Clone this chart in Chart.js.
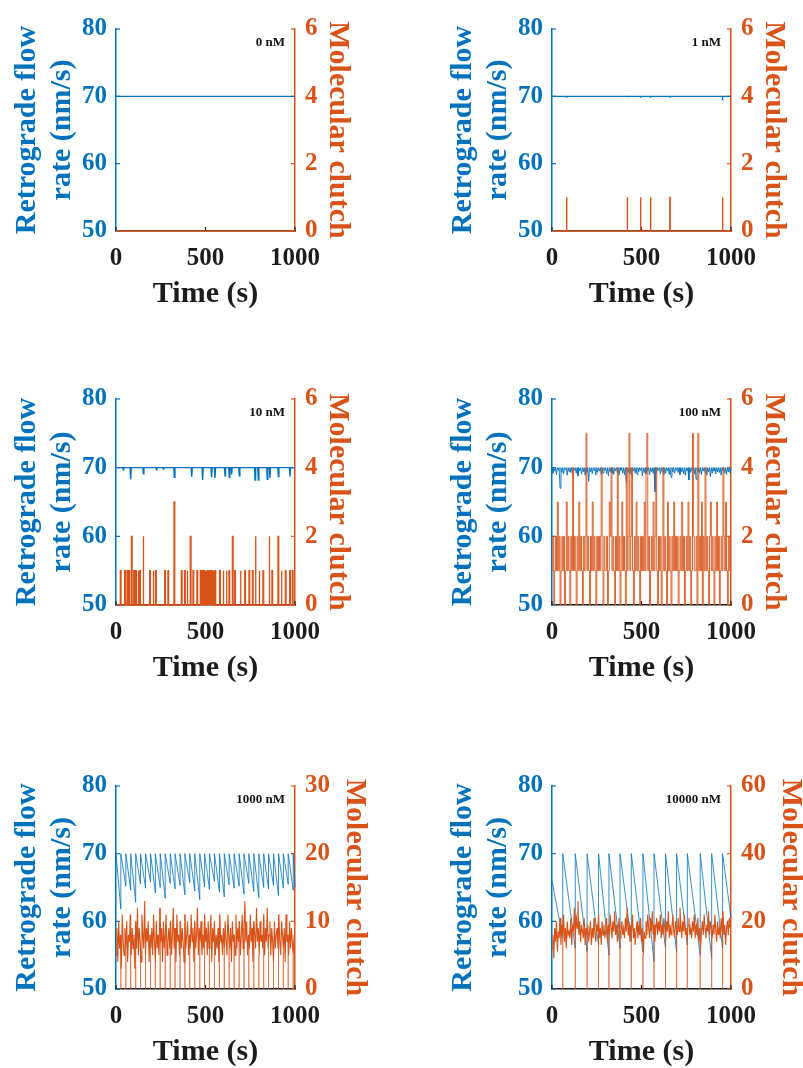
<!DOCTYPE html>
<html>
<head>
<meta charset="utf-8">
<title>Retrograde flow and molecular clutch vs. time</title>
<script src="https://cdn.jsdelivr.net/npm/chart.js@4.4.1/dist/chart.umd.min.js"></script>
<style>
  html, body { margin: 0; padding: 0; background: #ffffff; width: 803px; height: 1068px; overflow: hidden; }
  canvas { position: absolute; }
</style>
</head>
<body>
<canvas id="p0"></canvas>
<canvas id="p1"></canvas>
<canvas id="p2"></canvas>
<canvas id="p3"></canvas>
<canvas id="p4"></canvas>
<canvas id="p5"></canvas>
<script>
// ---------- shared axis data ----------
const concentrations = ['0 nM', '1 nM', '10 nM', '100 nM', '1000 nM', '10000 nM'];
const timeTicks = [0, 500, 1000];
const rateTicks = [50, 60, 70, 80];
const clutchTicksSmall = [0, 2, 4, 6];
const clutchTicks1000 = [0, 10, 20, 30];
const clutchTicks10000 = [0, 20, 40, 60];
const freeRate = 70;

// ---------- 0 nM ----------
const rate0Time = [0, 1000];
const rate0 = [70, 70];
const clutch0Time = [0, 1000];
const clutch0 = [0, 0];

// ---------- 1 nM: isolated binding events ----------
const bind1Time = [82, 421, 495, 551, 659, 953];
const bind1Count = [1, 1, 1, 1, 1, 1];
const slow1Rate = [69.95, 69.95, 69.95, 69.95, 69.95, 69.8];

// ---------- 10 nM ----------
const bind10Time = [26, 50, 63, 74, 88, 101, 112, 125, 134, 153, 190, 209, 223, 274, 292, 326,
  367, 385, 399, 417, 432, 454, 473, 480, 487, 493, 500, 506, 512, 518, 525, 531, 537, 544, 550, 555,
  581, 600, 618, 633, 652, 665, 696, 721, 745, 764, 780, 801, 823, 857, 873, 907, 925, 948, 972, 987];
const bind10Count = [1, 1, 1, 1, 2, 1, 1, 1, 1, 2, 1, 1, 1, 1, 1, 3,
  1, 1, 1, 2, 1, 1, 1, 1, 1, 1, 1, 1, 1, 1, 1, 1, 1, 1, 1, 1,
  1, 1, 1, 1, 2, 1, 1, 1, 1, 1, 2, 1, 1, 2, 1, 2, 1, 1, 1, 1];
const slow10Time = [40, 82, 153, 227, 264, 326, 423, 484, 534, 553, 609, 633, 646, 689, 777, 795, 845, 860, 907, 972];
const slow10Rate = [69.7, 68.3, 69.1, 69.6, 69.8, 68.6, 68.7, 68.2, 68.6, 68.5, 68.8, 68.6, 69.0, 68.8, 68.2, 68.2, 68.3, 68.5, 68.7, 68.7];

// ---------- 100 nM (clutch every 5 s; rate minima between free-flow samples every 10 s) ----------
const clutch100Step = 5;
const clutch100 = [
  1, 2, 0, 1, 2, 1, 3, 1, 2, 0, 1, 2, 1, 2, 0, 1, 3, 1, 2, 1,
  0, 2, 1, 4, 1, 2, 1, 0, 2, 1, 3, 1, 2, 1, 0, 2, 1, 2, 5, 1,
  2, 1, 0, 2, 1, 3, 1, 2, 1, 0, 2, 1, 2, 1, 2, 4, 1, 0, 2, 1,
  1, 2, 0, 1, 3, 2, 4, 1, 2, 1, 0, 2, 1, 4, 1, 2, 0, 1, 3, 1,
  2, 1, 0, 4, 1, 2, 5, 1, 2, 4, 1, 0, 2, 1, 3, 1, 2, 1, 0, 2,
  1, 2, 1, 3, 1, 4, 5, 1, 2, 0, 1, 2, 1, 3, 1, 2, 4, 1, 0, 2,
  1, 2, 0, 1, 4, 1, 2, 1, 0, 3, 1, 2, 1, 0, 2, 1, 3, 1, 2, 1,
  2, 0, 1, 2, 1, 3, 1, 2, 0, 1, 2, 1, 3, 1, 2, 0, 1, 5, 2, 1,
  1, 2, 0, 5, 1, 2, 1, 3, 0, 2, 1, 4, 1, 2, 1, 0, 2, 3, 1, 2,
  1, 0, 2, 1, 3, 1, 2, 0, 1, 2, 1, 4, 2, 1, 3, 1, 0, 2, 1, 2];
const rate100Step = 10;
const rate100Min = [
  69.2, 69.5, 69.0, 69.6, 67.0, 69.3, 69.1, 69.7, 68.9, 69.4,
  69.3, 69.0, 69.6, 69.2, 68.8, 69.5, 69.1, 69.4, 68.9, 69.3,
  68.0, 69.4, 69.1, 69.6, 68.9, 69.3, 69.5, 69.0, 69.2, 69.6,
  69.1, 68.8, 69.4, 69.2, 69.0, 69.5, 69.3, 68.9, 69.6, 69.2,
  69.0, 67.8, 69.4, 69.1, 68.9, 69.5, 69.2, 69.0, 69.4, 69.6,
  68.8, 69.3, 69.1, 69.5, 69.0, 69.4, 69.2, 66.5, 69.3, 69.6,
  69.1, 69.4, 68.9, 69.2, 69.5, 69.0, 68.6, 69.4, 69.2, 69.6,
  69.3, 69.0, 69.4, 69.1, 68.9, 69.5, 68.2, 69.3, 69.6, 69.1,
  68.3, 69.4, 69.2, 69.0, 69.5, 69.3, 68.9, 69.4, 68.7, 69.2,
  69.5, 69.1, 69.4, 69.3, 68.9, 69.6, 69.2, 69.0, 69.4, 69.2];

// ---------- 1000 nM ----------
const release1000 = [27, 55, 82, 110, 137, 165, 193, 220, 247, 275, 303, 330, 358, 385, 412, 440, 468, 495,
  522, 550, 578, 605, 632, 660, 688, 715, 742, 770, 798, 825, 852, 880, 908, 935, 962, 990];
const rate1000Start = 70;
const trough1000 = [61.8, 65.2, 64.6, 62.8, 65.5, 64.9, 65.8, 64.2, 65.0, 63.4, 65.6, 64.8, 65.3, 63.9, 65.7, 64.5,
  63.2, 65.1, 64.7, 65.9, 64.3, 63.6, 65.4, 64.9, 65.2, 64.0, 65.6, 64.4, 63.5, 65.0, 64.8, 65.3, 63.8, 64.9, 65.5, 64.6, 65.0];
const clutch1000Step = 5;
const clutch1000 = [
  5, 9, 4, 10, 6, 8, 3, 11, 7, 5, 9, 6, 10, 4, 8, 7, 11, 5, 9, 6,
  8, 3, 10, 6, 12, 5, 9, 7, 4, 11, 8, 6, 13, 5, 9, 7, 10, 4, 8, 6,
  9, 5, 11, 7, 4, 10, 6, 8, 5, 12, 7, 9, 4, 10, 6, 8, 11, 5, 7, 9,
  6, 10, 5, 8, 12, 6, 9, 4, 11, 7, 8, 5, 10, 6, 9, 7, 4, 11, 6, 8,
  10, 5, 8, 6, 11, 7, 9, 4, 10, 6, 8, 12, 5, 9, 7, 10, 5, 8, 6, 11,
  7, 9, 5, 10, 6, 8, 11, 4, 9, 7, 10, 5, 8, 6, 9, 4, 11, 7, 8, 5,
  9, 6, 10, 7, 5, 11, 8, 6, 9, 4, 10, 7, 8, 5, 11, 6, 9, 7, 10, 5,
  8, 11, 6, 9, 13, 7, 10, 5, 8, 6, 11, 7, 9, 4, 10, 8, 6, 12, 7, 9,
  5, 10, 7, 8, 6, 11, 5, 9, 7, 12, 6, 8, 10, 5, 9, 7, 4, 10, 6, 8,
  9, 6, 11, 7, 5, 10, 8, 6, 9, 4, 11, 7, 8, 5, 10, 6, 9, 7, 5, 8];

// ---------- 10000 nM ----------
const release10000 = [60, 130, 196, 260, 318, 380, 443, 508, 570, 634, 696, 756, 828, 892, 953];
const rate10000Start = 66;
const trough10000 = [57.5, 56.0, 55.5, 56.5, 55.0, 56.0, 57.0, 55.5, 54.0, 56.0, 55.5, 56.5, 55.0, 54.5, 56.0, 60.5];
const clutch10000Step = 5;
const clutch10000 = [
  12, 16, 9, 18, 14, 20, 11, 17, 15, 21, 13, 19, 16, 22, 14, 18, 12, 20, 16, 17,
  15, 21, 13, 19, 17, 24, 15, 22, 18, 26, 16, 20, 14, 19, 17, 15, 21, 13, 18, 16,
  19, 14, 17, 20, 13, 18, 15, 21, 16, 14, 19, 17, 22, 15, 18, 13, 20, 16, 19, 15,
  17, 21, 14, 19, 16, 22, 18, 15, 20, 17, 23, 16, 19, 14, 18, 21, 15, 17, 20, 16,
  18, 15, 21, 17, 24, 16, 20, 14, 19, 17, 22, 15, 18, 13, 17, 20, 15, 19, 16, 21,
  14, 18, 10, 17, 15, 20, 16, 22, 18, 15, 21, 17, 23, 16, 19, 14, 18, 21, 16, 20,
  17, 22, 15, 19, 16, 21, 18, 14, 20, 17, 23, 15, 19, 16, 18, 22, 17, 15, 20, 18,
  16, 21, 17, 24, 19, 15, 20, 17, 22, 16, 18, 14, 19, 21, 16, 18, 15, 20, 17, 22,
  15, 19, 16, 21, 14, 18, 12, 17, 20, 16, 22, 18, 15, 19, 17, 23, 16, 20, 18, 15,
  19, 16, 22, 17, 14, 20, 16, 18, 15, 21, 17, 23, 16, 19, 13, 18, 20, 16, 21, 18];

// ---------- series builders ----------
function pairs(times, values) {
  return times.map((t, i) => ({ x: t, y: values[i] }));
}
function sampled(values, step) {
  return values.map((v, i) => ({ x: i * step, y: v }));
}
// short rectangular pulses on a flat baseline
function pulses(times, levels, base, half) {
  const pts = [{ x: 0, y: base }];
  times.forEach((t, i) => {
    pts.push({ x: t - half, y: base }, { x: t - half, y: levels[i] },
             { x: t + half, y: levels[i] }, { x: t + half, y: base });
  });
  pts.push({ x: 1000, y: base });
  return pts;
}
// narrow dips below a flat level
function dips(times, mins, base, half) {
  const pts = [{ x: 0, y: base }];
  times.forEach((t, i) => {
    pts.push({ x: t - half, y: base }, { x: t, y: mins[i] }, { x: t + half, y: base });
  });
  pts.push({ x: 1000, y: base });
  return pts;
}
// free-flow samples alternating with the recorded minima
function comb(mins, step, base) {
  const pts = [];
  mins.forEach((m, i) => {
    pts.push({ x: i * step, y: base }, { x: i * step + step / 2, y: m });
  });
  pts.push({ x: 1000, y: base });
  return pts;
}
// slow decline, then a jump back to the free rate at every release
function sawtooth(releases, troughs, peak, start) {
  const pts = [{ x: 0, y: start }];
  releases.forEach((t, i) => {
    pts.push({ x: t, y: troughs[i] }, { x: t, y: peak });
  });
  pts.push({ x: 1000, y: troughs[releases.length] });
  return pts;
}
// vertical drops of the clutch count to zero at each release
function releaseDrops(releases, values, step) {
  const pts = [];
  releases.forEach(t => {
    const v = values[Math.min(values.length - 1, Math.round(t / step))];
    pts.push({ x: t, y: v }, { x: t, y: 0 }, { x: t, y: null });
  });
  return pts;
}

// ---------- styling ----------
const BLUE = '#0072BD';
const ORANGE = '#D95319';
const ORANGE_LIGHT = 'rgba(217, 83, 25, 0.55)';
const INK = '#1c1c1c';
const SERIF = "'Liberation Serif', 'Times New Roman', serif";

const inwardTicks = {
  id: 'inwardTicks',
  beforeDatasetsDraw(chart) {
    const { ctx, chartArea: a, scales } = chart;
    const len = 4;
    ctx.save();
    ctx.lineWidth = 1.2;
    ctx.strokeStyle = BLUE;
    scales.yL.ticks.forEach(t => {
      const y = scales.yL.getPixelForValue(t.value);
      ctx.beginPath(); ctx.moveTo(a.left, y); ctx.lineTo(a.left + len, y); ctx.stroke();
    });
    ctx.strokeStyle = ORANGE;
    scales.yR.ticks.forEach(t => {
      const y = scales.yR.getPixelForValue(t.value);
      ctx.beginPath(); ctx.moveTo(a.right, y); ctx.lineTo(a.right - len, y); ctx.stroke();
    });
    ctx.strokeStyle = INK;
    scales.x.ticks.forEach(t => {
      const x = scales.x.getPixelForValue(t.value);
      ctx.beginPath(); ctx.moveTo(x, a.bottom); ctx.lineTo(x, a.bottom - len); ctx.stroke();
    });
    ctx.restore();
  }
};

const concLabel = {
  id: 'concLabel',
  afterDatasetsDraw(chart, args, opts) {
    const { ctx, chartArea: a } = chart;
    ctx.save();
    ctx.font = 'bold 13px ' + SERIF;
    ctx.fillStyle = '#111111';
    ctx.textAlign = 'right';
    ctx.textBaseline = 'middle';
    ctx.fillText(opts.text, a.right - 10, a.top + 14);
    ctx.restore();
  }
};

const AREA_LEFT = 116;
const AREA_RIGHT = 295;
const TOP_PAD = 20;
const X_AXIS_H = 80;

function tickList(values) {
  return scale => { scale.ticks = values.map(v => ({ value: v })); };
}

function lineSet(data, axis, color, width, order, stepped) {
  return { data, yAxisID: axis, borderColor: color, borderWidth: width,
           pointRadius: 0, tension: 0, order, clip: 3, spanGaps: false, stepped: !!stepped };
}

function makePanel(idx, left, top, areaH, canvasW, datasets, clutchTicks) {
  const canvas = document.getElementById('p' + idx);
  const H = TOP_PAD + areaH + X_AXIS_H;
  canvas.width = canvasW; canvas.height = H;
  canvas.style.left = left + 'px'; canvas.style.top = top + 'px';
  canvas.style.width = canvasW + 'px'; canvas.style.height = H + 'px';

  const tickFont = { family: SERIF, size: 25, weight: 'bold' };
  const titleFont = { family: SERIF, size: 30, weight: 'bold', lineHeight: 1.15 };

  new Chart(canvas, {
    type: 'line',
    data: { datasets },
    options: {
      responsive: false,
      devicePixelRatio: 1,
      animation: false,
      events: [],
      layout: { padding: { top: TOP_PAD, left: 0, right: 0, bottom: 0 } },
      plugins: { legend: { display: false }, tooltip: { enabled: false }, concLabel: { text: concentrations[idx] } },
      scales: {
        x: {
          type: 'linear', min: 0, max: 1000,
          afterBuildTicks: tickList(timeTicks),
          afterFit: s => { s.height = X_AXIS_H; },
          grid: { display: false, drawTicks: false },
          border: { display: true, color: INK, width: 1.5 },
          ticks: { color: INK, font: tickFont, padding: 13, maxRotation: 0, autoSkip: false, callback: v => String(v) },
          title: { display: true, text: 'Time (s)', color: INK, font: titleFont, padding: { top: 0, bottom: 0 } }
        },
        yL: {
          type: 'linear', position: 'left', min: 50, max: 80,
          afterBuildTicks: tickList(rateTicks),
          afterFit: s => { s.width = AREA_LEFT; },
          grid: { display: false, drawTicks: false },
          border: { display: true, color: BLUE, width: 1.5 },
          ticks: { color: BLUE, font: tickFont, padding: 9, autoSkip: false, callback: v => String(v) },
          title: { display: true, text: ['Retrograde flow', 'rate (nm/s)'], color: BLUE, font: titleFont, padding: { top: 10, bottom: 0 } }
        },
        yR: {
          type: 'linear', position: 'right', min: 0, max: clutchTicks[clutchTicks.length - 1],
          afterBuildTicks: tickList(clutchTicks),
          afterFit: s => { s.width = canvasW - AREA_RIGHT; },
          grid: { display: false, drawTicks: false },
          border: { display: true, color: ORANGE, width: 1.5 },
          ticks: { color: ORANGE, font: tickFont, padding: 10, autoSkip: false, callback: v => String(v) },
          title: { display: true, text: 'Molecular clutch', color: ORANGE, font: titleFont, padding: { top: 12, bottom: 0 } }
        }
      }
    },
    plugins: [inwardTicks, concLabel]
  });
}

const COL_X = [0, 436];
const ROW_Y = [4, 374, 761];
const ROW_AREA_H = [207, 211, 208];
const ROW_CANVAS_W = [367, 367, 384];

makePanel(0, COL_X[0], ROW_Y[0], ROW_AREA_H[0], ROW_CANVAS_W[0], [
  lineSet(pairs(clutch0Time, clutch0), 'yR', ORANGE, 1.4, 0),
  lineSet(pairs(rate0Time, rate0), 'yL', BLUE, 1.4, 1)
], clutchTicksSmall);

makePanel(1, COL_X[1], ROW_Y[0], ROW_AREA_H[0], ROW_CANVAS_W[0], [
  lineSet(pulses(bind1Time, bind1Count, 0, 1), 'yR', ORANGE, 1.4, 0),
  lineSet(dips(bind1Time, slow1Rate, freeRate, 3), 'yL', BLUE, 1.4, 1)
], clutchTicksSmall);

makePanel(2, COL_X[0], ROW_Y[1], ROW_AREA_H[1], ROW_CANVAS_W[1], [
  lineSet(pulses(bind10Time, bind10Count, 0, 2), 'yR', ORANGE, 1.3, 0),
  lineSet(dips(slow10Time, slow10Rate, freeRate, 3), 'yL', BLUE, 1.4, 1)
], clutchTicksSmall);

makePanel(3, COL_X[1], ROW_Y[1], ROW_AREA_H[1], ROW_CANVAS_W[1], [
  lineSet(sampled(clutch100, clutch100Step), 'yR', ORANGE, 0.9, 0, true),
  lineSet(comb(rate100Min, rate100Step, freeRate), 'yL', BLUE, 0.9, 1)
], clutchTicksSmall);

makePanel(4, COL_X[0], ROW_Y[2], ROW_AREA_H[2], ROW_CANVAS_W[2], [
  lineSet(sampled(clutch1000, clutch1000Step), 'yR', ORANGE, 1.1, 0),
  lineSet(releaseDrops(release1000, clutch1000, clutch1000Step), 'yR', ORANGE_LIGHT, 0.8, 1),
  lineSet(sawtooth(release1000, trough1000, freeRate, rate1000Start), 'yL', BLUE, 0.8, 2)
], clutchTicks1000);

makePanel(5, COL_X[1], ROW_Y[2], ROW_AREA_H[2], ROW_CANVAS_W[2], [
  lineSet(sampled(clutch10000, clutch10000Step), 'yR', ORANGE, 1.1, 0),
  lineSet(releaseDrops(release10000, clutch10000, clutch10000Step), 'yR', ORANGE_LIGHT, 0.8, 1),
  lineSet(sawtooth(release10000, trough10000, freeRate, rate10000Start), 'yL', BLUE, 0.8, 2)
], clutchTicks10000);
</script>
</body>
</html>
